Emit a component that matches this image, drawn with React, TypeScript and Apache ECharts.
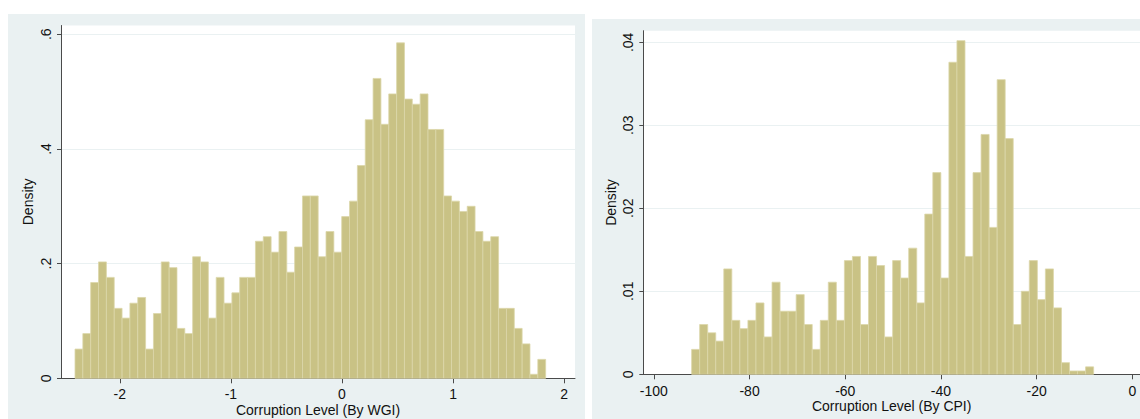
import React, { useEffect, useRef } from "react";
import * as echarts from "echarts";

// Left histogram: Corruption Level (By WGI)
const wgiBinStart = -2.403;
const wgiBinWidth = 0.0706;
const wgiDensity = [
  0.051, 0.078, 0.167, 0.203, 0.176, 0.122, 0.105, 0.131, 0.141, 0.051,
  0.113, 0.203, 0.193, 0.087, 0.078, 0.212, 0.203, 0.105, 0.176, 0.131,
  0.149, 0.176, 0.176, 0.239, 0.247, 0.220, 0.256, 0.185, 0.229, 0.318,
  0.318, 0.212, 0.256, 0.220, 0.282, 0.309, 0.371, 0.451, 0.523, 0.443,
  0.496, 0.585, 0.487, 0.478, 0.496, 0.434, 0.434, 0.318, 0.309, 0.291,
  0.300, 0.256, 0.239, 0.247, 0.122, 0.122, 0.087, 0.060, 0.007, 0.033,
];
const wgiXTicks = [-2, -1, 0, 1, 2];
const wgiYTicks = [0, 0.2, 0.4, 0.6];

// Right histogram: Corruption Level (By CPI)
const cpiBinStart = -92.1;
const cpiBinWidth = 1.68;
const cpiDensity = [
  0.0030, 0.0060, 0.0050, 0.0040, 0.0127, 0.0065, 0.0055, 0.0065, 0.0086, 0.0045,
  0.0111, 0.0076, 0.0076, 0.0096, 0.0060, 0.0030, 0.0065, 0.0111, 0.0065, 0.0137,
  0.0142, 0.0060, 0.0142, 0.0131, 0.0045, 0.0137, 0.0116, 0.0152, 0.0086, 0.0193,
  0.0243, 0.0116, 0.0376, 0.0402, 0.0142, 0.0243, 0.0289, 0.0177, 0.0355, 0.0284,
  0.0060, 0.0100, 0.0137, 0.0090, 0.0127, 0.0080, 0.0014, 0.0004, 0.0004, 0.0009,
];
const cpiXTicks = [-100, -80, -60, -40, -20, 0];
const cpiYTicks = [0, 0.01, 0.02, 0.03, 0.04];

const BG = "#eaf1f2";
const BAR_FILL = "#c9c285";
const BAR_EDGE = "#dcd7a9";
const AXIS = "#4a4a4a";
const TEXT = "#111";
const FONT = "Liberation Sans, Arial, sans-serif";

const fmtY = (v: number) => (v === 0 ? "0" : String(+v.toFixed(3)).replace(/^0/, ""));

const toBins = (start: number, width: number, vals: number[]) =>
  vals.map((v, i) => [start + i * width, start + (i + 1) * width, v]);

const renderBar = (params: any, api: any) => {
  const p0 = api.coord([api.value(0), api.value(2)]);
  const p1 = api.coord([api.value(1), 0]);
  return {
    type: "rect",
    shape: { x: p0[0], y: p0[1], width: p1[0] - p0[0], height: p1[1] - p0[1] },
    style: { fill: BAR_FILL, stroke: BAR_EDGE, lineWidth: 0.8 },
  };
};

const xAxisCfg = (gi: number, min: number, max: number, ticks: number[], name: string, margin: number, gap: number) => ({
  type: "value",
  gridIndex: gi,
  min,
  max,
  name,
  nameLocation: "middle",
  nameGap: gap,
  nameMoveOverlap: false,
  nameTextStyle: { color: TEXT, fontSize: 14, fontFamily: FONT },
  axisLine: { show: true, onZero: false, lineStyle: { color: AXIS, width: 1 } },
  axisTick: { show: true, customValues: ticks, length: 5, lineStyle: { color: AXIS } },
  axisLabel: {
    customValues: ticks,
    margin,
    color: TEXT,
    fontSize: 14,
    fontFamily: FONT,
    formatter: (v: number) => String(v),
  },
  splitLine: { show: false },
});

const yAxisCfg = (gi: number, max: number, ticks: number[], gap: number) => ({
  type: "value",
  gridIndex: gi,
  min: 0,
  max,
  name: "Density",
  nameLocation: "middle",
  nameGap: gap,
  nameRotate: 90,
  nameMoveOverlap: false,
  nameTextStyle: { color: TEXT, fontSize: 14, fontFamily: FONT },
  axisLine: { show: true, onZero: false, lineStyle: { color: AXIS, width: 1 } },
  axisTick: { show: true, customValues: ticks, length: 4, lineStyle: { color: AXIS } },
  axisLabel: {
    customValues: ticks,
    rotate: 90,
    margin: 8,
    color: TEXT,
    fontSize: 14,
    fontFamily: FONT,
    formatter: fmtY,
  },
  splitLine: { show: true, lineStyle: { color: BG, width: 1 } },
});

export default function App() {
  const ref = useRef<HTMLDivElement>(null);
  useEffect(() => {
    if (!ref.current) return;
    const chart = echarts.init(ref.current, undefined, { renderer: "svg" });
    chart.setOption({
      animation: false,
      backgroundColor: "#ffffff",
      graphic: [
        { type: "rect", z: -100, shape: { x: 8, y: 14, width: 577, height: 405 }, style: { fill: BG } },
        { type: "rect", z: -100, shape: { x: 592, y: 19, width: 548, height: 400 }, style: { fill: BG } },
      ],
      grid: [
        {
          left: 61, top: 25.5, width: 514, height: 352.8,
          show: true, backgroundColor: "#ffffff", borderWidth: 0,
          containLabel: false, outerBoundsMode: "none",
        },
        {
          left: 643.3, top: 30.7, width: 496.7, height: 343.6,
          show: true, backgroundColor: "#ffffff", borderWidth: 0,
          containLabel: false, outerBoundsMode: "none",
        },
      ],
      xAxis: [
        xAxisCfg(0, -2.529, 2.097, wgiXTicks, "Corruption Level (By WGI)", 9, 25),
        xAxisCfg(1, -102.2, 1.59, cpiXTicks, "Corruption Level (By CPI)", 10, 25),
      ],
      yAxis: [yAxisCfg(0, 0.6153, wgiYTicks, 26), yAxisCfg(1, 0.0414, cpiYTicks, 25)],
      series: [
        {
          type: "custom",
          xAxisIndex: 0,
          yAxisIndex: 0,
          renderItem: renderBar,
          encode: { x: [0, 1], y: 2 },
          data: toBins(wgiBinStart, wgiBinWidth, wgiDensity),
        },
        {
          type: "custom",
          xAxisIndex: 1,
          yAxisIndex: 1,
          renderItem: renderBar,
          encode: { x: [0, 1], y: 2 },
          data: toBins(cpiBinStart, cpiBinWidth, cpiDensity),
        },
      ],
    });
    return () => chart.dispose();
  }, []);
  return <div ref={ref} style={{ position: "absolute", left: 0, top: 0, width: 1140, height: 419 }} />;
}
